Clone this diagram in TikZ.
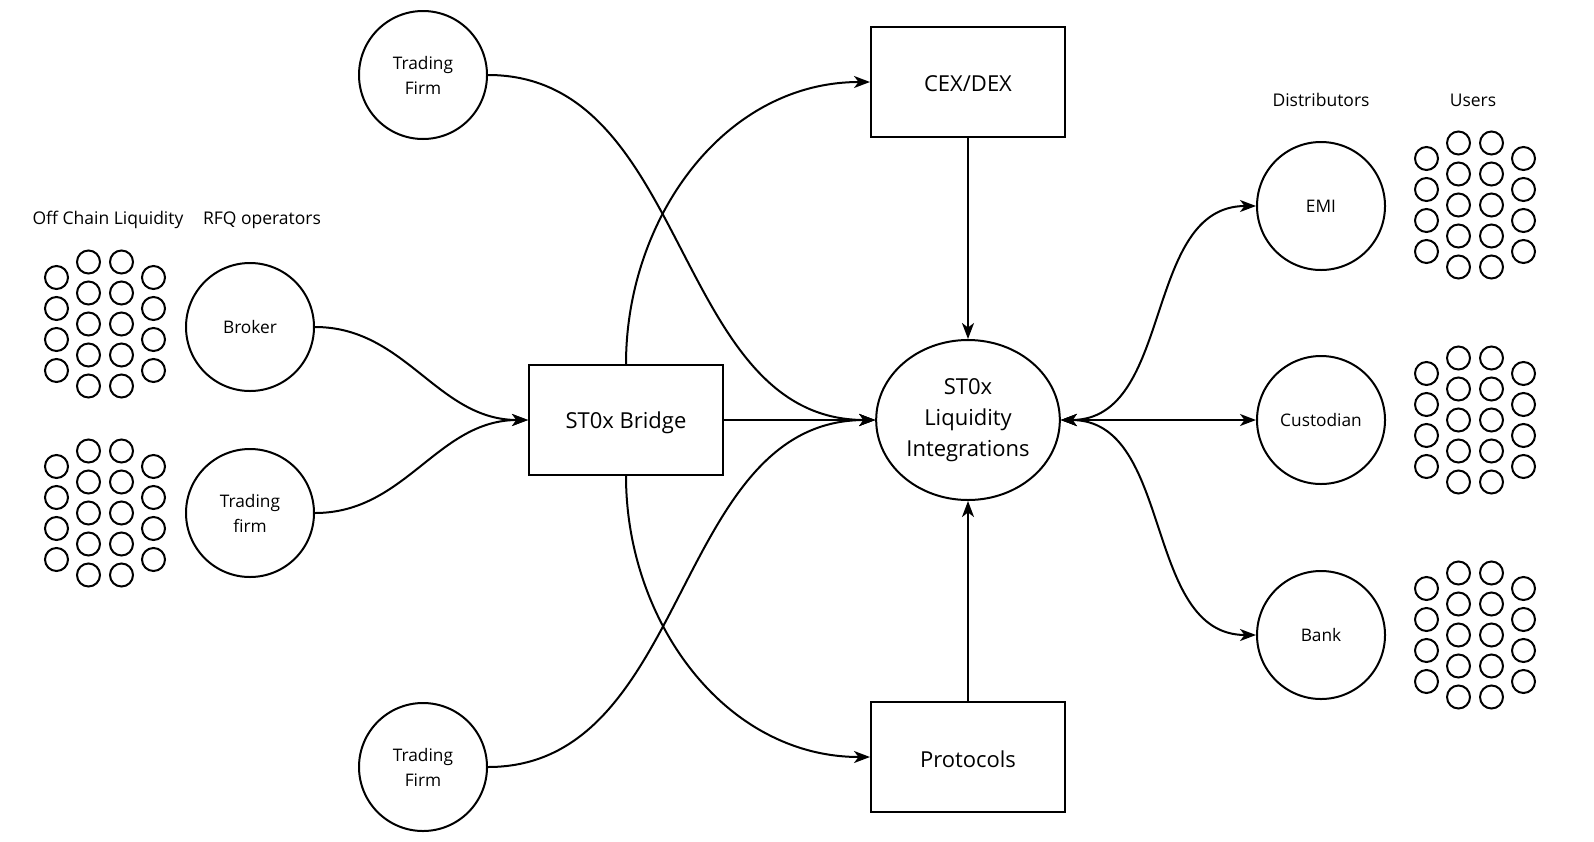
\documentclass[tikz,border=0pt]{standalone}
\usepackage{fontspec}
\setmainfont{Open Sans}
\usetikzlibrary{arrows.meta,shapes.geometric}

\tikzset{
  party/.style={draw, circle, line width=2pt, minimum size=128pt, inner sep=0pt,
    align=center, font=\fontsize{17.3}{25}\selectfont},
  venue/.style={draw, rectangle, line width=2pt, minimum width=194pt, minimum height=110pt,
    font=\fontsize{22}{30}\selectfont},
  flow/.style={line width=2pt, -{Stealth[length=16pt,width=12pt,inset=4.5pt]}},
  twoway/.style={line width=2pt, {Stealth[length=16pt,width=12pt,inset=4.5pt]}-{Stealth[length=16pt,width=12pt,inset=4.5pt]}},
  caption/.style={font=\fontsize{17.5}{20}\selectfont}
}

\begin{document}
\begin{tikzpicture}[x=1pt,y=-1pt]

\useasboundingbox (0,0) rectangle (1594,841);

% crowd of small circles around a centre
\def\crowd#1{
  \begin{scope}[shift={(#1)}]
  \foreach \dx in {-48.5,48.5} \foreach \dy in {-46.5,-15.5,15.5,46.5}
    \draw[line width=2pt] (\dx,\dy) circle (11.5);
  \foreach \dx in {-16.5,16.5} \foreach \dy in {-62,-31,0,31,62}
    \draw[line width=2pt] (\dx,\dy) circle (11.5);
  \end{scope}
}

% headings
\node[caption] (offchain) at (108,220) {Off Chain Liquidity};
\node[caption] (rfq) at (262,220) {RFQ operators};
\node[caption] (distrib) at (1321,100) {Distributors};
\node[caption] (users) at (1473,100) {Users};

% parties
\node[party] (trfirmtop) at (423,75) {Trading\\Firm};
\node[party] (broker) at (250,327) {Broker};
\node[party] (trfirm) at (250,513) {Trading\\firm};
\node[party] (trfirmbot) at (423,767) {Trading\\Firm};
\node[party] (emi) at (1321,206) {EMI};
\node[party] (custodian) at (1321,420) {Custodian};
\node[party] (bank) at (1321,635) {Bank};

% venues
\node[venue] (bridge) at (626,420) {\raisebox{-3pt}[\height][\depth]{ST0x Bridge}};
\node[venue] (cexdex) at (968,82) {\raisebox{-2pt}[\height][\depth]{CEX/DEX}};
\node[venue] (protocols) at (968,757) {\raisebox{-2pt}[\height][\depth]{Protocols}};
\node[draw, ellipse, line width=2pt, minimum width=182pt, minimum height=160pt,
  align=center, font=\fontsize{22}{31}\selectfont] (liq) at (968,420) {ST0x\\Liquidity\\Integrations};

% crowds
\crowd{105,324}
\crowd{105,513}
\crowd{1475,205}
\crowd{1475,420}
\crowd{1475,635}

% connectors
\draw[flow] (broker.east) to[out=0,in=180] (bridge.west);
\draw[flow] (trfirm.east) to[out=0,in=180] (bridge.west);
\draw[flow] (bridge.east) -- (liq.west);
\draw[flow] (bridge.north) to[out=90,in=180] (cexdex.west);
\draw[flow] (bridge.south) to[out=-90,in=180] (protocols.west);
\draw[flow] (trfirmtop.east) to[out=0,in=180] (liq.west);
\draw[flow] (trfirmbot.east) to[out=0,in=180] (liq.west);
\draw[flow] (cexdex.south) -- (liq.north);
\draw[flow] (protocols.north) -- (liq.south);
\draw[twoway] (liq.east) to[out=0,in=180] (emi.west);
\draw[twoway] (liq.east) -- (custodian.west);
\draw[twoway] (liq.east) to[out=0,in=180] (bank.west);

\end{tikzpicture}
\end{document}
